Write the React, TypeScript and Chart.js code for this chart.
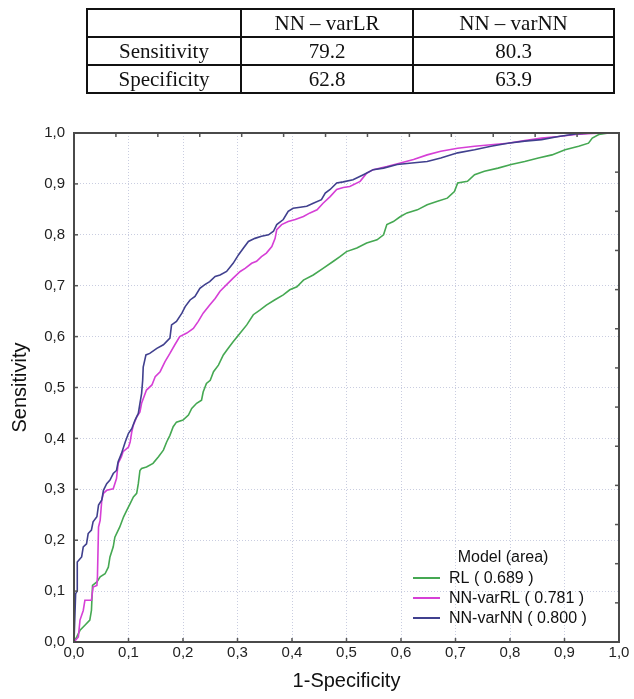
import React, { useEffect, useRef } from "react";
import { Chart, registerables } from "chart.js";

Chart.register(...registerables);

// ---- Table data ----
const tableColumns = ["", "NN – varLR", "NN – varNN"];
const tableRowLabels = ["Sensitivity", "Specificity"];
const tableVarLR = ["79.2", "62.8"];
const tableVarNN = ["80.3", "63.9"];

// ---- Chart data ----
const seriesNames = ["RL", "NN-varRL", "NN-varNN"];
const seriesAreas = ["0.689", "0.781", "0.800"];
const seriesColors = ["#45a852", "#d63fd6", "#40408e"];
const legendTitle = "Model (area)";
const xTitle = "1-Specificity";
const yTitle = "Sensitivity";

const rlX = [0, 0.005, 0.011, 0.02, 0.029, 0.032, 0.034, 0.042, 0.048, 0.057, 0.063, 0.066, 0.072, 0.075, 0.084, 0.091, 0.097, 0.103, 0.109, 0.115, 0.118, 0.121, 0.124, 0.133, 0.145, 0.155, 0.164, 0.17, 0.176, 0.182, 0.188, 0.2, 0.21, 0.216, 0.225, 0.234, 0.237, 0.243, 0.25, 0.256, 0.265, 0.274, 0.283, 0.292, 0.305, 0.317, 0.329, 0.341, 0.353, 0.368, 0.384, 0.396, 0.409, 0.421, 0.439, 0.457, 0.476, 0.488, 0.5, 0.519, 0.537, 0.556, 0.568, 0.574, 0.586, 0.599, 0.611, 0.63, 0.648, 0.667, 0.685, 0.698, 0.704, 0.722, 0.735, 0.753, 0.778, 0.802, 0.827, 0.852, 0.877, 0.901, 0.926, 0.944, 0.951, 0.963, 0.981, 1];
const rlY = [0, 0.01, 0.023, 0.033, 0.043, 0.062, 0.111, 0.118, 0.128, 0.134, 0.147, 0.167, 0.187, 0.206, 0.226, 0.246, 0.259, 0.272, 0.285, 0.292, 0.311, 0.337, 0.341, 0.344, 0.351, 0.364, 0.377, 0.393, 0.406, 0.423, 0.432, 0.436, 0.446, 0.459, 0.469, 0.475, 0.491, 0.508, 0.514, 0.531, 0.544, 0.564, 0.577, 0.59, 0.607, 0.623, 0.643, 0.652, 0.662, 0.672, 0.682, 0.692, 0.698, 0.711, 0.721, 0.734, 0.748, 0.757, 0.767, 0.774, 0.784, 0.79, 0.8, 0.82, 0.826, 0.836, 0.843, 0.849, 0.859, 0.866, 0.872, 0.885, 0.902, 0.905, 0.918, 0.925, 0.931, 0.938, 0.944, 0.951, 0.957, 0.967, 0.974, 0.98, 0.99, 0.997, 1, 1];

const nnLrX = [0, 0.008, 0.011, 0.017, 0.02, 0.032, 0.035, 0.042, 0.043, 0.045, 0.048, 0.051, 0.054, 0.06, 0.072, 0.078, 0.081, 0.087, 0.09, 0.1, 0.103, 0.106, 0.109, 0.115, 0.121, 0.124, 0.133, 0.143, 0.149, 0.158, 0.167, 0.176, 0.185, 0.194, 0.207, 0.219, 0.228, 0.237, 0.249, 0.259, 0.268, 0.28, 0.292, 0.305, 0.314, 0.326, 0.335, 0.344, 0.353, 0.363, 0.369, 0.372, 0.381, 0.393, 0.406, 0.421, 0.433, 0.446, 0.457, 0.47, 0.482, 0.494, 0.506, 0.525, 0.537, 0.549, 0.574, 0.599, 0.623, 0.648, 0.673, 0.704, 0.735, 0.765, 0.796, 0.827, 0.858, 0.889, 0.92, 0.951, 0.975, 1];
const nnLrY = [0, 0.01, 0.043, 0.062, 0.082, 0.082, 0.108, 0.111, 0.128, 0.226, 0.239, 0.279, 0.292, 0.298, 0.301, 0.321, 0.351, 0.364, 0.374, 0.383, 0.393, 0.413, 0.426, 0.442, 0.452, 0.469, 0.495, 0.505, 0.521, 0.531, 0.551, 0.567, 0.584, 0.6, 0.607, 0.616, 0.63, 0.646, 0.662, 0.675, 0.689, 0.702, 0.715, 0.728, 0.734, 0.744, 0.748, 0.757, 0.764, 0.777, 0.793, 0.81, 0.82, 0.826, 0.83, 0.836, 0.843, 0.849, 0.862, 0.875, 0.889, 0.893, 0.895, 0.905, 0.921, 0.928, 0.934, 0.941, 0.948, 0.957, 0.964, 0.97, 0.974, 0.977, 0.98, 0.985, 0.99, 0.993, 0.997, 0.999, 1, 1];

const nnNnX = [0, 0.003, 0.006, 0.006, 0.014, 0.017, 0.023, 0.026, 0.032, 0.035, 0.042, 0.045, 0.051, 0.054, 0.06, 0.066, 0.072, 0.078, 0.081, 0.087, 0.094, 0.1, 0.106, 0.112, 0.118, 0.121, 0.124, 0.126, 0.127, 0.132, 0.139, 0.152, 0.164, 0.176, 0.179, 0.188, 0.198, 0.204, 0.213, 0.222, 0.231, 0.24, 0.249, 0.259, 0.268, 0.28, 0.292, 0.302, 0.311, 0.32, 0.332, 0.344, 0.357, 0.366, 0.372, 0.384, 0.393, 0.402, 0.415, 0.427, 0.439, 0.454, 0.461, 0.47, 0.482, 0.494, 0.512, 0.531, 0.549, 0.568, 0.593, 0.62, 0.648, 0.673, 0.704, 0.735, 0.765, 0.796, 0.827, 0.858, 0.889, 0.92, 0.951, 1];
const nnNnY = [0, 0.095, 0.1, 0.157, 0.167, 0.187, 0.193, 0.213, 0.22, 0.236, 0.246, 0.269, 0.279, 0.298, 0.311, 0.318, 0.331, 0.337, 0.354, 0.37, 0.393, 0.41, 0.419, 0.436, 0.449, 0.469, 0.488, 0.514, 0.54, 0.564, 0.567, 0.577, 0.584, 0.597, 0.623, 0.63, 0.646, 0.659, 0.672, 0.679, 0.695, 0.702, 0.708, 0.718, 0.721, 0.728, 0.744, 0.761, 0.774, 0.787, 0.793, 0.797, 0.8, 0.807, 0.82, 0.83, 0.846, 0.852, 0.854, 0.856, 0.862, 0.869, 0.882, 0.889, 0.902, 0.904, 0.908, 0.918, 0.928, 0.931, 0.938, 0.941, 0.944, 0.951, 0.961, 0.967, 0.974, 0.98, 0.984, 0.987, 0.993, 0.998, 1, 1];

const seriesX = [rlX, nnLrX, nnNnX];
const seriesY = [rlY, nnLrY, nnNnY];

const fmt = (v: number) => Number(v).toFixed(1).replace(".", ",");

const framePlugin = {
  id: "frameAndLegend",
  afterDraw(chart: any) {
    const { ctx, chartArea } = chart;
    const { left, right, top, bottom } = chartArea;
    ctx.save();
    // inner ticks
    ctx.strokeStyle = "#555";
    ctx.lineWidth = 1.5;
    const xs = chart.scales.x;
    const ys = chart.scales.y;
    xs.ticks.forEach((t: any) => {
      const px = xs.getPixelForValue(t.value);
      ctx.beginPath();
      ctx.moveTo(px, bottom);
      ctx.lineTo(px, bottom - 4);
      ctx.stroke();
    });
    ys.ticks.forEach((t: any) => {
      const py = ys.getPixelForValue(t.value);
      ctx.beginPath();
      ctx.moveTo(left, py);
      ctx.lineTo(left + 4, py);
      ctx.stroke();
    });
    const n = 13;
    for (let i = 1; i < n; i++) {
      const px = left + ((right - left) * i) / n;
      ctx.beginPath();
      ctx.moveTo(px, top);
      ctx.lineTo(px, top + 4);
      ctx.stroke();
      const py = top + ((bottom - top) * i) / n;
      ctx.beginPath();
      ctx.moveTo(right, py);
      ctx.lineTo(right - 4, py);
      ctx.stroke();
    }
    // frame
    ctx.strokeStyle = "#4a4a4a";
    ctx.lineWidth = 2;
    ctx.strokeRect(left, top, right - left, bottom - top);

    // legend
    ctx.font = "16px 'Liberation Sans', Arial, sans-serif";
    ctx.fillStyle = "#111";
    ctx.textBaseline = "middle";
    ctx.textAlign = "center";
    ctx.fillText(legendTitle, right - 116, bottom - 84);
    ctx.textAlign = "left";
    chart.data.datasets.forEach((ds: any, i: number) => {
      const y = bottom - 64 + i * 20;
      ctx.strokeStyle = ds.borderColor;
      ctx.lineWidth = 2;
      ctx.beginPath();
      ctx.moveTo(right - 206, y);
      ctx.lineTo(right - 179, y);
      ctx.stroke();
      ctx.fillStyle = "#111";
      ctx.fillText(`${ds.label} ( ${seriesAreas[i]} )`, right - 170, y + 1);
    });
    ctx.restore();
  },
};

export default function App() {
  const canvasRef = useRef<HTMLCanvasElement>(null);

  useEffect(() => {
    if (!canvasRef.current) return;
    const datasets = seriesNames.map((name, i) => ({
      label: name,
      data: seriesX[i].map((x, j) => ({ x, y: seriesY[i][j] })),
      borderColor: seriesColors[i],
      backgroundColor: seriesColors[i],
      borderWidth: 1.6,
      pointRadius: 0,
      tension: 0,
      fill: false,
      order: 3 - i,
    }));
    const chart = new Chart(canvasRef.current, {
      type: "line",
      data: { datasets },
      options: {
        animation: false,
        responsive: false,
        devicePixelRatio: 1,
        layout: { padding: { top: 133, right: 15, left: 0, bottom: 0 } },
        plugins: { legend: { display: false }, tooltip: { enabled: false } },
        scales: {
          x: {
            type: "linear",
            min: 0,
            max: 1,
            ticks: {
              stepSize: 0.1,
              padding: 2,
              color: "#222",
              font: { family: "'Liberation Sans', Arial, sans-serif", size: 15 },
              callback: (v: any) => fmt(v),
              maxRotation: 0,
            },
            grid: { color: "#c9cde0", lineWidth: 1, drawTicks: false },
            border: { display: false, dash: [1, 2] },
            title: {
              display: true,
              text: xTitle,
              color: "#111",
              font: { family: "'Liberation Sans', Arial, sans-serif", size: 20 },
              padding: { top: 0, bottom: 6 },
            },
            afterFit: (s: any) => {
              s.height = 57;
            },
          },
          y: {
            type: "linear",
            min: 0,
            max: 1,
            ticks: {
              stepSize: 0.1,
              padding: 9,
              color: "#222",
              font: { family: "'Liberation Sans', Arial, sans-serif", size: 15 },
              callback: (v: any) => fmt(v),
            },
            grid: { color: "#c9cde0", lineWidth: 1, drawTicks: false },
            border: { display: false, dash: [1, 2] },
            title: {
              display: true,
              text: yTitle,
              color: "#111",
              font: { family: "'Liberation Sans', Arial, sans-serif", size: 20 },
              padding: { top: 8, bottom: 0 },
            },
            afterFit: (s: any) => {
              s.width = 74;
            },
          },
        },
      },
      plugins: [framePlugin],
    });
    return () => chart.destroy();
  }, []);

  const cell: React.CSSProperties = {
    border: "2px solid #111",
    padding: 0,
    textAlign: "center",
    verticalAlign: "middle",
    lineHeight: "22px",
  };

  return (
    <div style={{ position: "fixed", left: 0, top: 0, width: 634, height: 699, background: "#fff" }}>
      <canvas ref={canvasRef} width={634} height={699} style={{ position: "absolute", left: 0, top: 0, width: 634, height: 699 }} />
      <table
        style={{
          position: "absolute",
          left: 86,
          top: 8,
          width: 527,
          height: 83,
          borderCollapse: "collapse",
          fontFamily: "'Liberation Serif', 'Times New Roman', serif",
          fontSize: 21,
          color: "#111",
          tableLayout: "fixed",
        }}
      >
        <colgroup>
          <col style={{ width: 154 }} />
          <col style={{ width: 172 }} />
          <col style={{ width: 201 }} />
        </colgroup>
        <tbody>
          <tr style={{ height: 28 }}>
            {tableColumns.map((c, i) => (
              <td key={i} style={cell}>{c}</td>
            ))}
          </tr>
          {tableRowLabels.map((r, i) => (
            <tr key={r} style={{ height: 28 }}>
              <td style={cell}>{r}</td>
              <td style={cell}>{tableVarLR[i]}</td>
              <td style={cell}>{tableVarNN[i]}</td>
            </tr>
          ))}
        </tbody>
      </table>
    </div>
  );
}
